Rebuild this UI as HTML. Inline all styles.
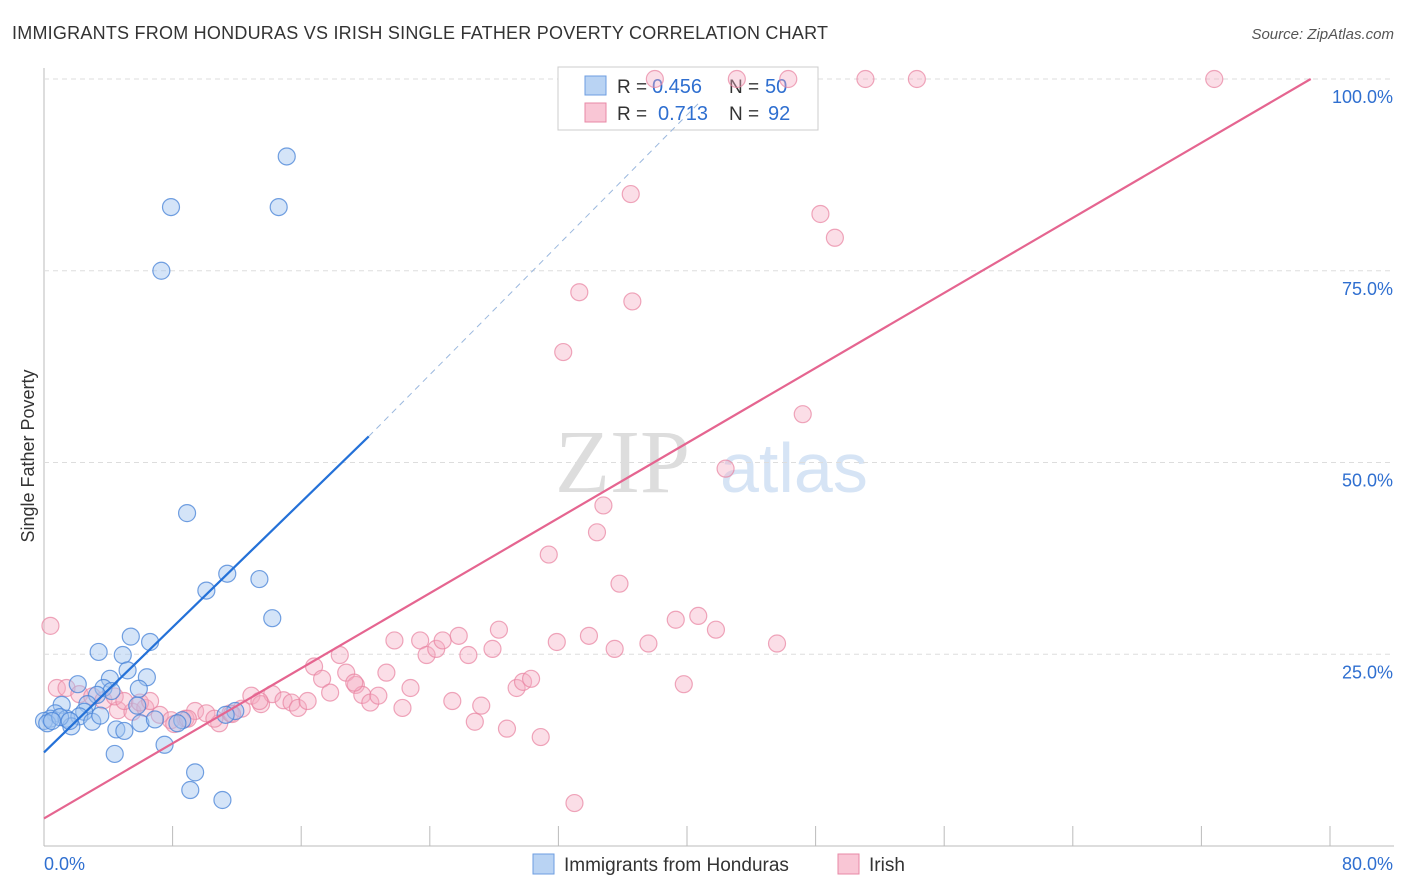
<!DOCTYPE html>
<html><head><meta charset="utf-8"><style>
body{margin:0;background:#fff;font-family:"Liberation Sans",sans-serif;}
svg{display:block}
</style></head><body>
<svg id="c" width="1406" height="892">
<text x="12" y="39" font-size="18" fill="#333" textLength="816">IMMIGRANTS FROM HONDURAS VS IRISH SINGLE FATHER POVERTY CORRELATION CHART</text>
<text x="1394" y="39" font-size="15" fill="#555" font-style="italic" text-anchor="end">Source: ZipAtlas.com</text>
<text x="34" y="456" font-size="18" fill="#333" text-anchor="middle" transform="rotate(-90 34 456)">Single Father Poverty</text>
<text x="555" y="492" font-size="90" fill="#ddd" font-family="Liberation Serif">ZIP</text>
<text x="720" y="492" font-size="70" fill="#d6e4f5">atlas</text>
<g id="grid"></g>
<g>
<rect x="558" y="67" width="260" height="63" fill="#fff" stroke="#ccc"/>
<rect x="585" y="76" width="21" height="19" fill="#b9d3f3" stroke="#6d9ee0"/>
<rect x="585" y="103" width="21" height="19" fill="#f9c6d5" stroke="#e888a6"/>
<text x="617" y="93" font-size="19" fill="#333">R =</text>
<text x="652" y="93" font-size="20" fill="#2f6fd0">0.456</text>
<text x="729" y="93" font-size="19" fill="#333">N =</text>
<text x="765" y="93" font-size="20" fill="#2f6fd0">50</text>
<text x="617" y="120" font-size="19" fill="#333">R =</text>
<text x="658" y="120" font-size="20" fill="#2f6fd0">0.713</text>
<text x="729" y="120" font-size="19" fill="#333">N =</text>
<text x="768" y="120" font-size="20" fill="#2f6fd0">92</text>
</g>
<g id="pts"></g><g id="lines"></g>
<g>
<rect x="533" y="854" width="21" height="20" fill="#b9d3f3" stroke="#6d9ee0"/>
<text x="564" y="871" font-size="19" fill="#333">Immigrants from Honduras</text>
<rect x="838" y="854" width="21" height="20" fill="#f9c6d5" stroke="#e888a6"/>
<text x="869" y="871" font-size="19" fill="#333">Irish</text>
</g>
</svg>
<script>
const xTicks=[0,8,16,24,32,40,48,56,64,72,80];
const yTicks=[25,50,75,100];
const yTickLabels=["25.0%","50.0%","75.0%","100.0%"];
const xEndLabels=["0.0%","80.0%"];
const blueX=[15.1,7.9,14.6,7.3,8.9,11.4,13.4,10.1,14.2,5.4,6.6,3.4,4.9,5.2,6.4,2.1,4.1,3.7,4.2,3.3,5.9,2.7,2.5,1.1,0.7,0.4,1.4,2.2,3.0,1.7,4.5,5.0,6.0,6.9,8.6,7.5,4.4,9.4,9.1,11.1,11.9,11.3,0.0,0.2,1.0,0.5,5.8,3.5,1.6,8.3];
const blueY=[89.9,83.3,83.3,75.0,43.4,35.5,34.8,33.3,29.7,27.3,26.6,25.3,24.9,22.9,22.0,21.1,21.8,20.6,20.2,19.7,20.5,18.5,17.5,18.4,17.3,16.6,16.6,16.9,16.2,15.6,15.2,15.0,16.0,16.5,16.4,13.2,12.0,9.6,7.3,6.0,17.6,17.1,16.3,16.0,16.8,16.3,18.3,17.0,16.3,16.0];
const pinkX=[0.4,0.8,1.4,2.2,3.0,3.7,4.6,5.5,6.3,7.2,7.9,8.8,9.4,10.1,10.9,11.6,12.3,12.9,13.5,14.2,14.9,15.4,15.8,16.4,16.8,17.3,17.8,18.4,18.8,19.4,19.8,20.3,20.8,21.3,21.8,22.3,22.8,23.4,23.8,24.4,24.8,25.8,26.4,26.8,27.2,27.9,28.3,28.8,29.4,29.8,30.3,30.9,31.4,31.9,32.3,33.0,33.3,33.9,34.4,34.8,35.5,35.8,36.5,36.6,37.6,39.3,39.8,40.7,41.8,42.4,45.6,47.2,48.3,49.2,51.1,54.3,72.8,38.0,43.1,46.3,4.4,5.0,5.97,6.6,8.1,8.95,10.6,11.7,13.4,19.3,25.4];
const pinkY=[28.7,20.6,20.6,19.8,19.5,19.0,17.7,17.5,18.0,17.1,16.4,16.6,17.6,17.3,16.0,17.3,17.9,19.6,18.5,19.8,19.0,18.7,18.0,18.9,23.4,21.8,20.0,24.9,22.6,21.0,19.7,18.7,19.6,22.6,26.8,18.0,20.6,26.8,24.9,25.7,26.8,27.4,24.9,16.2,18.3,25.7,28.2,15.3,20.6,21.4,21.8,14.2,38.0,26.6,64.4,5.6,72.2,27.4,40.9,44.4,25.7,34.2,85.0,71.0,26.4,29.5,21.1,30.0,28.2,49.2,26.4,56.3,82.4,79.3,100,100,100,100,100,100,19.5,18.9,18.7,18.9,15.9,16.6,16.6,17.2,18.9,21.3,18.9];
const blueLine=[[0,12.2],[20.2,53.4]];
const blueDash=[[20.2,53.4],[40.8,97]];
const pinkLine=[[0,3.6],[78.8,100]];
const NS='http://www.w3.org/2000/svg';
const X=v=>44+v*16.075, Y=v=>846-v*7.67;
function mk(t,a,p){const e=document.createElementNS(NS,t);for(const k in a)e.setAttribute(k,a[k]);p.appendChild(e);return e;}
const g=document.getElementById('grid');
mk('line',{x1:44,y1:68,x2:44,y2:846,stroke:'#bbb'},g);
mk('line',{x1:44,y1:846,x2:1394,y2:846,stroke:'#bbb'},g);
yTicks.forEach((t,i)=>{const l=mk('line',{x1:44,y1:Y(t),x2:1394,y2:Y(t),stroke:'#ddd','stroke-dasharray':'5,4'},g);


const tx=mk('text',{x:1393,y:Y(t)+24,'font-size':18,fill:'#2f6fd0','text-anchor':'end'},g);tx.textContent=yTickLabels[i];

});
xTicks.forEach(t=>{const l=mk('line',{x1:X(t),y1:826,x2:X(t),y2:846,stroke:'#bbb'},g);

});
[[0,44,'start'],[80,1393,'end']].forEach((a,i)=>{const tx=mk('text',{x:a[1],y:870,'font-size':18,fill:'#2f6fd0','text-anchor':a[2]},g);tx.textContent=xEndLabels[i];

});
const p=document.getElementById('pts');
pinkX.forEach((v,i)=>{const c=mk('circle',{cx:X(v),cy:Y(pinkY[i]),r:8.5,fill:'rgba(246,172,195,0.4)',stroke:'rgba(232,130,160,0.7)','stroke-width':1.2},p);

});
blueX.forEach((v,i)=>{const c=mk('circle',{cx:X(v),cy:Y(blueY[i]),r:8.5,fill:'rgba(160,195,240,0.45)',stroke:'rgba(70,130,215,0.75)','stroke-width':1.2},p);

});
const L=document.getElementById('lines');
let e=mk('line',{x1:X(blueDash[0][0]),y1:Y(blueDash[0][1]),x2:X(blueDash[1][0]),y2:Y(blueDash[1][1]),stroke:'#9bb8de','stroke-dasharray':'6,5','stroke-width':1},L);


e=mk('line',{x1:X(blueLine[0][0]),y1:Y(blueLine[0][1]),x2:X(blueLine[1][0]),y2:Y(blueLine[1][1]),stroke:'#2471d8','stroke-width':2.2},L);


e=mk('line',{x1:X(pinkLine[0][0]),y1:Y(pinkLine[0][1]),x2:X(pinkLine[1][0]),y2:Y(pinkLine[1][1]),stroke:'#e56590','stroke-width':2.2},L);


</script>
</body></html>
